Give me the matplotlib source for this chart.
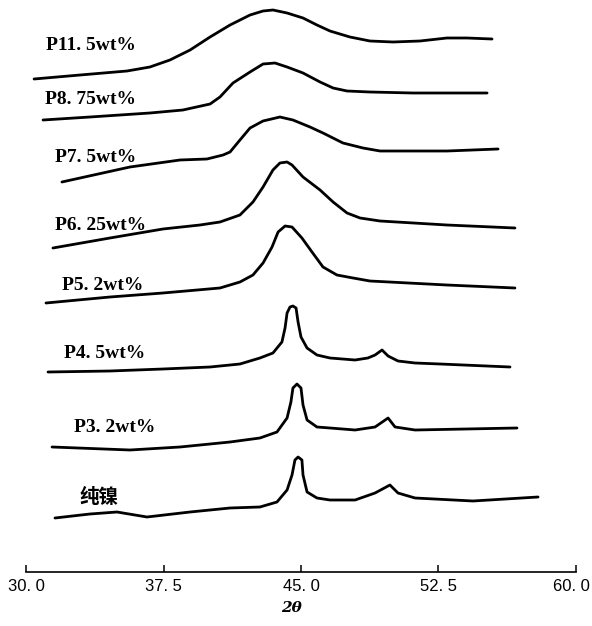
import matplotlib
matplotlib.use("Agg")
import matplotlib.pyplot as plt
import matplotlib.transforms as mtransforms

# XRD patterns, 2theta (deg) and stacked intensity (a.u.)
labels = ["P11. 5wt%", "P8. 75wt%", "P7. 5wt%", "P6. 25wt%",
          "P5. 2wt%", "P4. 5wt%", "P3. 2wt%", "纯镍"]

tt_p115 = [30.44, 32.95, 35.51, 36.76, 37.85, 38.95, 40.04, 41.13, 42.22, 42.93,
           43.47, 44.24, 45.11, 45.87, 46.58, 47.67, 48.76, 50.02, 51.49, 52.96,
           54.05, 55.42]
i_p115 = [493, 497, 501, 505, 512, 522, 535, 547, 557, 561,
          562, 559, 554, 547, 541, 535, 531, 530, 531, 534,
          534, 533]

tt_p875 = [30.93, 33.49, 36.76, 38.56, 40.04, 40.58, 41.29, 42.22, 42.93, 43.58,
           44.24, 45.11, 46.04, 46.75, 47.51, 48.76, 51.11, 55.15]
i_p875 = [452, 455, 459, 462, 468, 475, 489, 500, 508, 509,
          505, 499, 490, 484, 481, 480, 479, 479]

tt_p75 = [31.96, 35.67, 38.40, 39.87, 40.75, 41.13, 41.67, 42.22, 42.93, 43.85,
          44.56, 45.49, 46.20, 47.29, 48.38, 49.31, 52.96, 55.75]
i_p75 = [390, 405, 412, 413, 417, 420, 432, 444, 451, 455,
         452, 445, 439, 429, 424, 421, 421, 423]

tt_p625 = [31.47, 34.58, 37.47, 39.49, 40.58, 41.67, 42.38, 42.93, 43.47, 43.85,
           44.24, 44.51, 45.11, 46.04, 46.75, 47.51, 48.22, 49.31, 52.96, 56.67]
i_p625 = [324, 334, 343, 347, 350, 357, 370, 385, 402, 409,
          410, 407, 395, 382, 370, 359, 354, 351, 347, 344]

tt_p52 = [31.09, 34.58, 37.47, 40.58, 41.67, 42.38, 42.93, 43.42, 43.75, 44.13,
          44.51, 45.05, 45.60, 46.20, 46.96, 47.84, 48.76, 52.96, 56.67]
i_p52 = [269, 275, 279, 284, 290, 297, 309, 325, 340, 346,
         345, 334, 320, 305, 297, 294, 291, 287, 284]

tt_p45 = [31.20, 34.58, 37.47, 40.04, 41.67, 42.76, 43.47, 43.96, 44.13, 44.24,
          44.40, 44.56, 44.73, 44.84, 45.00, 45.33, 45.87, 46.58, 47.95, 48.65,
          49.04, 49.42, 49.75, 50.29, 51.22, 52.58, 56.40]
i_p45 = [200, 201, 203, 205, 208, 214, 219, 230, 244, 259,
         265, 266, 264, 250, 235, 224, 217, 214, 212, 214,
         217, 222, 216, 211, 209, 208, 205]

tt_p32 = [31.42, 35.67, 38.40, 41.13, 42.76, 43.69, 44.24, 44.45, 44.56, 44.78,
          45.00, 45.11, 45.33, 45.87, 46.58, 47.95, 49.04, 49.75, 50.13, 51.22,
          56.78]
i_p32 = [125, 122, 125, 130, 134, 140, 154, 170, 184, 188,
         184, 167, 152, 145, 144, 142, 145, 154, 145, 142,
         144]

tt_ni = [31.58, 33.49, 34.96, 36.60, 38.95, 41.13, 42.76, 43.69, 44.24, 44.51,
         44.67, 44.84, 45.05, 45.11, 45.33, 45.87, 46.58, 47.95, 49.04, 49.85,
         50.29, 51.22, 54.38, 57.93]
i_ni = [54, 58, 60, 55, 60, 64, 65, 70, 82, 97,
        112, 115, 112, 97, 80, 74, 72, 72, 79, 87,
        79, 74, 71, 75]

xticks = [30.0, 37.5, 45.0, 52.5, 60.0]
xtick_labels = ["30. 0", "37. 5", "45. 0", "52. 5", "60. 0"]

series = [(tt_p115, i_p115), (tt_p875, i_p875), (tt_p75, i_p75), (tt_p625, i_p625),
          (tt_p52, i_p52), (tt_p45, i_p45), (tt_p32, i_p32), (tt_ni, i_ni)]

# where each curve's name sits (2theta of left edge, height)
label_pos = [(31.10, 527), (31.04, 472), (31.60, 415), (31.60, 347),
             (31.98, 287), (32.09, 219), (32.63, 145), (32.92, 75)]

fig = plt.figure(figsize=(5.92, 6.26), dpi=100)
ax = fig.add_axes([26 / 592, 54 / 626, 550 / 592, 572 / 626])

for (tt, inten) in series:
    ax.plot(tt, inten, color="black", lw=2.0, solid_joinstyle="round",
            solid_capstyle="round")

for name, (x, y) in zip(labels, label_pos):
    ax.text(x, y, name, ha="left", va="center", fontsize=14, fontweight="bold",
            family=["Liberation Serif", "Noto Sans CJK SC"])

ax.set_xlim(30, 60)
ax.set_ylim(0, 572)
for side in ["left", "right", "top"]:
    ax.spines[side].set_visible(False)
ax.spines["bottom"].set_linewidth(1.2)
ax.set_yticks([])
ax.set_xticks(xticks)
ax.set_xticklabels(xtick_labels, fontsize=12, family="Liberation Sans")
ax.tick_params(axis="x", direction="in", length=5, width=1.1, pad=5)

# the end label sits a little left of its tick, as in the original
last = ax.get_xticklabels()[-1]
last.set_transform(last.get_transform() +
                   mtransforms.ScaledTranslation(-5 / 100, 0, fig.dpi_scale_trans))

ax.set_xlabel("2θ", fontsize=11, style="italic", fontweight="bold",
              family="DejaVu Serif")
ax.xaxis.set_label_coords(0.482, -0.051)

fig.savefig("out.png", dpi=100)
